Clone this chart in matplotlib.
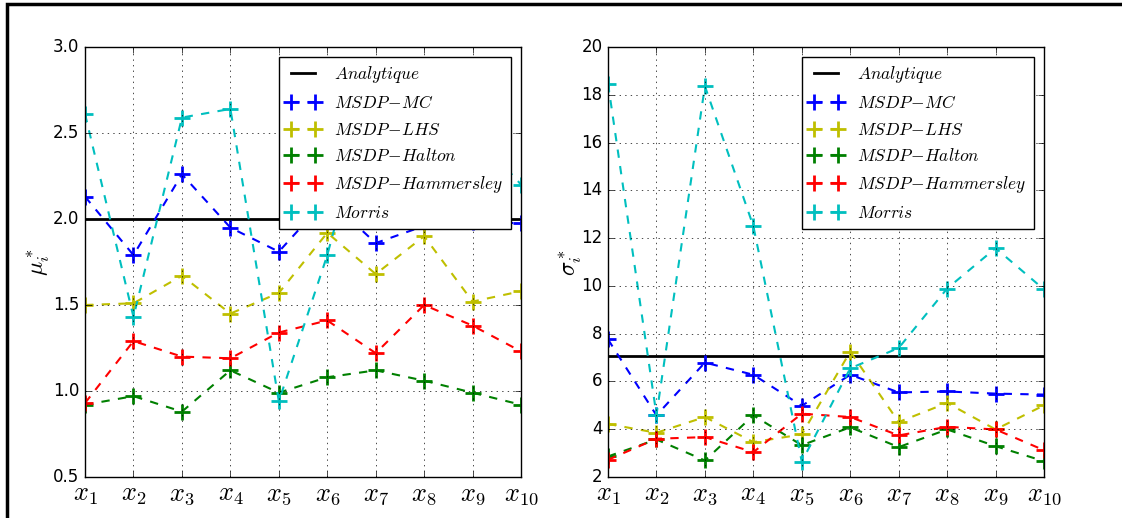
import numpy as np
import matplotlib
matplotlib.use('Agg')
from matplotlib import pyplot as plt
from matplotlib.patches import Rectangle

plt.style.use('classic')
plt.rcParams['mathtext.fontset'] = 'cm'

xlabels = ['$x_{%d}$' % i for i in range(1, 11)]
labels = ['$MSDP\\!-\\!MC$', '$MSDP\\!-\\!LHS$', '$MSDP\\!-\\!Halton$', '$MSDP\\!-\\!Hammersley$', '$Morris$']
colors = ['b', 'y', 'g', 'r', 'c']

mu_analytique = 2.0
mu_mc = [2.13, 1.79, 2.26, 1.95, 1.81, 2.12, 1.86, 1.96, 1.985, 1.975]
mu_lhs = [1.50, 1.51, 1.67, 1.45, 1.57, 1.92, 1.68, 1.90, 1.52, 1.58]
mu_halton = [0.92, 0.97, 0.88, 1.12, 0.99, 1.08, 1.12, 1.06, 0.99, 0.92]
mu_hammersley = [0.93, 1.29, 1.20, 1.19, 1.34, 1.41, 1.22, 1.50, 1.38, 1.23]
mu_morris = [2.61, 1.43, 2.59, 2.64, 0.94, 1.79, 2.84, 2.45, 2.51, 2.20]

sigma_analytique = 7.07
sigma_mc = [7.76, 4.58, 6.79, 6.28, 4.98, 6.28, 5.54, 5.58, 5.49, 5.45]
sigma_lhs = [4.22, 3.85, 4.51, 3.46, 3.78, 7.25, 4.30, 5.10, 3.99, 5.00]
sigma_halton = [2.86, 3.57, 2.69, 4.58, 3.33, 4.08, 3.25, 3.99, 3.29, 2.66]
sigma_hammersley = [2.72, 3.60, 3.67, 3.04, 4.65, 4.51, 3.74, 4.10, 3.99, 3.12]
sigma_morris = [18.47, 4.60, 18.36, 12.50, 2.64, 6.55, 7.40, 9.89, 11.58, 9.85]

x = np.arange(1, 11)

fig = plt.figure(figsize=(11.22, 5.18), dpi=100)
fig.patch.set_facecolor('white')

def panel(rect, analytique, series, ylim, yticks, ylab, lpad):
    ax = fig.add_axes(rect)
    ax.plot([1, 10], [analytique, analytique], 'k-', lw=2, label='$Analytique$')
    for s, c, l in zip(series, colors, labels):
        ax.plot(x, s, '--', color=c, marker='+', ms=12, mew=2, lw=1.5, label=l)
    ax.set_xlim(1, 10)
    ax.set_ylim(*ylim)
    ax.set_yticks(yticks)
    ax.set_xticks(x)
    ax.set_xticklabels(xlabels, fontsize=19)
    ax.tick_params(axis='y', labelsize=12)
    ax.tick_params(axis='x', pad=3)
    ax.grid(True)
    ax.set_ylabel(ylab, fontsize=17, labelpad=lpad)
    ax.legend(loc='upper right', fontsize=12.5, numpoints=2, borderaxespad=0.6,
              handlelength=2.0, labelspacing=0.5)
    return ax

ax1 = panel([0.0758, 0.0792, 0.3886, 0.830], mu_analytique,
            [mu_mc, mu_lhs, mu_halton, mu_hammersley, mu_morris],
            (0.5, 3.0), [0.5, 1.0, 1.5, 2.0, 2.5, 3.0], '$\\mu_i^*$', 1)
ax1.yaxis.set_major_formatter(plt.FormatStrFormatter('%.1f'))
ax2 = panel([0.5419, 0.0792, 0.3886, 0.830], sigma_analytique,
            [sigma_mc, sigma_lhs, sigma_halton, sigma_hammersley, sigma_morris],
            (2, 20), [2, 4, 6, 8, 10, 12, 14, 16, 18, 20], '$\\sigma_i^*$', -2)

fig.add_artist(Rectangle((0.0062, -0.2), 1.5, 0.9923 + 0.2, fill=False, lw=2.5,
                         edgecolor='k', transform=fig.transFigure))

plt.savefig('out.png', dpi=100, facecolor='white')
